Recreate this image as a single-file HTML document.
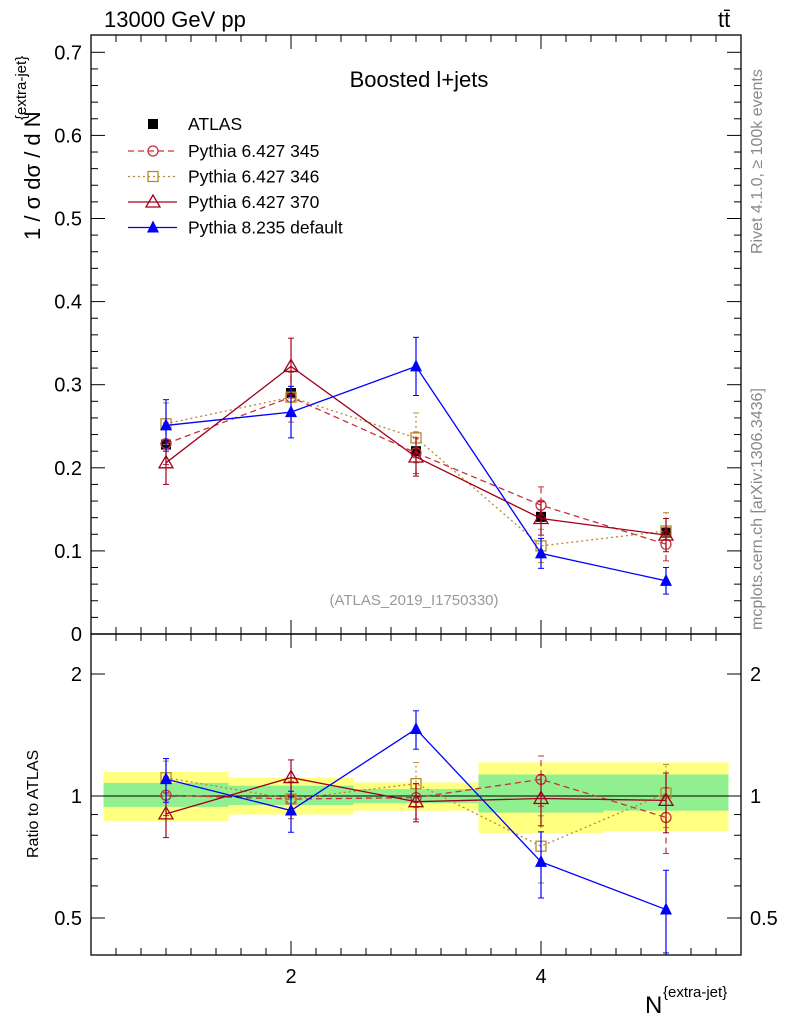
<!DOCTYPE html>
<html><head><meta charset="utf-8"><style>
body{margin:0;background:#fff;}
svg text{font-family:"Liberation Sans",sans-serif;}
</style></head><body>
<svg id="c" width="786" height="1024" xmlns="http://www.w3.org/2000/svg"></svg>
<script>
const xCats=[1,2,3,4,5];
const atlas=[0.228,0.290,0.220,0.141,0.122];
const atlasErr=[0.006,0.007,0.006,0.005,0.005];
const p345=[0.229,0.285,0.218,0.155,0.108];
const p345Err=[0.025,0.03,0.025,0.022,0.02];
const p346=[0.253,0.285,0.236,0.106,0.124];
const p346Err=[0.025,0.03,0.03,0.02,0.022];
const p370=[0.206,0.322,0.213,0.139,0.119];
const p370Err=[0.026,0.034,0.023,0.02,0.02];
const p8=[0.251,0.267,0.322,0.097,0.064];
const p8Err=[0.031,0.031,0.035,0.018,0.016];
const bandYellowHi=[1.146,1.11,1.08,1.21,1.21];
const bandYellowLo=[0.868,0.90,0.92,0.81,0.82];
const bandGreenHi=[1.077,1.06,1.04,1.13,1.13];
const bandGreenLo=[0.94,0.95,0.96,0.91,0.92];
const mainTicks=[0,0.1,0.2,0.3,0.4,0.5,0.6,0.7];
const mainTickLabels=["0","0.1","0.2","0.3","0.4","0.5","0.6","0.7"];
const ratioTicks=[0.5,1,2];
const ratioTickLabels=["0.5","1","2"];
const xTicks=[2,4];

const L=91,R=741,T=35,M=634,B=955;
const X=v=>166+(v-1)*125;
const Y=v=>634-v*831;
const YR=v=>796-Math.log2(v)*122;
const svg=document.getElementById('c');
const NS='http://www.w3.org/2000/svg';
function el(tag,attrs,parent){const e=document.createElementNS(NS,tag);for(const k in attrs)e.setAttribute(k,attrs[k]);(parent||svg).appendChild(e);return e;}
function txt(s,x,y,attrs){const t=el('text',Object.assign({x:x,y:y},attrs||{}));t.textContent=s;return t;}

for(let i=0;i<xCats.length;i++){
  const x0=X(xCats[i]-0.5),x1=X(xCats[i]+0.5);
  const yb=el('rect',{x:x0,y:YR(bandYellowHi[i]),width:x1-x0,height:YR(bandYellowLo[i])-YR(bandYellowHi[i]),fill:'#ffff80'});
  
  
  const gb=el('rect',{x:x0,y:YR(bandGreenHi[i]),width:x1-x0,height:YR(bandGreenLo[i])-YR(bandGreenHi[i]),fill:'#90f090'});
  
  
}
el('line',{x1:L,x2:R,y1:YR(1),y2:YR(1),stroke:'#000','stroke-width':1});

const f1=el('rect',{x:L,y:T,width:R-L,height:M-T,fill:'none',stroke:'#000','stroke-width':1.3});

const f2=el('rect',{x:L,y:M,width:R-L,height:B-M,fill:'none',stroke:'#000','stroke-width':1.3});


for(let v=0;v<=0.72;v+=0.02){const y=Y(v);if(y<T)break;const maj=Math.abs(v*10-Math.round(v*10))<1e-6;const l=maj?14:7;
  el('line',{x1:L,x2:L+l,y1:y,y2:y,stroke:'#000'});el('line',{x1:R,x2:R-l,y1:y,y2:y,stroke:'#000'});}
mainTicks.forEach((v,i)=>{const t=txt(mainTickLabels[i],82,Y(v)+7,{'text-anchor':'end','font-size':20});});
[0.5,0.6,0.7,0.8,0.9,1,2].forEach(v=>{const y=YR(v);const maj=ratioTicks.includes(v);const l=maj?14:7;
  el('line',{x1:L,x2:L+l,y1:y,y2:y,stroke:'#000'});el('line',{x1:R,x2:R-l,y1:y,y2:y,stroke:'#000'});});
ratioTicks.forEach((v,i)=>{const t=txt(ratioTickLabels[i],82,YR(v)+7,{'text-anchor':'end','font-size':20});
  const t2=txt(ratioTickLabels[i],750,YR(v)+7,{'font-size':20});});
for(let v=0.6;v<5.6;v+=0.2){const x=X(v);if(x<L||x>R)continue;const maj=Math.abs(v-Math.round(v))<1e-6&&Math.round(v)%2==0;const l=maj?14:7;
  [[T,1],[M,-1],[M,1],[B,-1]].forEach(([y,d])=>el('line',{x1:x,x2:x,y1:y,y2:y+d*l,stroke:'#000'}));}
xTicks.forEach(v=>{const t=txt(String(v),X(v),983,{'text-anchor':'middle','font-size':20});});

function marker(kind,x,y,color,g){
  if(kind=='sq')el('rect',{x:x-5,y:y-5,width:10,height:10,fill:'#000'},g);
  if(kind=='circ')el('circle',{cx:x,cy:y,r:5,fill:'none',stroke:color,'stroke-width':1.3},g);
  if(kind=='osq')el('rect',{x:x-5,y:y-5,width:10,height:10,fill:'none',stroke:color,'stroke-width':1.3},g);
  if(kind=='otri')el('polygon',{points:`${x},${y-7} ${x-7},${y+5} ${x+7},${y+5}`,fill:'none',stroke:color,'stroke-width':1.3},g);
  if(kind=='tri')el('polygon',{points:`${x},${y-7} ${x-6},${y+5} ${x+6},${y+5}`,fill:color},g);
}
const series=[
 {n:'pythia-6427-345',v:p345,e:p345Err,c:'#c8303c',d:'6,4',m:'circ'},
 {n:'pythia-6427-346',v:p346,e:p346Err,c:'#b88a30',d:'2,3',m:'osq'},
 {n:'pythia-6427-370',v:p370,e:p370Err,c:'#a0001c',d:'',m:'otri'},
 {n:'pythia-8235-default',v:p8,e:p8Err,c:'#0000ff',d:'',m:'tri'}];
const ga=el('g',{});
atlas.forEach((v,i)=>{el('line',{x1:X(xCats[i]),x2:X(xCats[i]),y1:Y(v-atlasErr[i]),y2:Y(v+atlasErr[i]),stroke:'#000'},ga);marker('sq',X(xCats[i]),Y(v),'#000',ga);});
series.forEach(s=>{
  [[Y,'main'],[YR,'ratio']].forEach(([yf,p])=>{
    const g=el('g',{});
    const vals=s.v.map((v,i)=>p=='main'?v:v/atlas[i]);
    const errs=s.e.map((e,i)=>p=='main'?e:e/atlas[i]);
    el('polyline',{points:vals.map((v,i)=>X(xCats[i])+','+yf(v)).join(' '),fill:'none',stroke:s.c,'stroke-width':1.3,'stroke-dasharray':s.d},g);
    vals.forEach((v,i)=>{const lo=Math.max(v-errs[i],p=='main'?0:0.41);
      el('line',{x1:X(xCats[i]),x2:X(xCats[i]),y1:yf(lo),y2:yf(v+errs[i]),stroke:s.c,'stroke-width':1.2,'stroke-dasharray':s.d},g);
      el('line',{x1:X(xCats[i])-3,x2:X(xCats[i])+3,y1:yf(v+errs[i]),y2:yf(v+errs[i]),stroke:s.c},g);
      el('line',{x1:X(xCats[i])-3,x2:X(xCats[i])+3,y1:yf(lo),y2:yf(lo),stroke:s.c},g);
      marker(s.m,X(xCats[i]),yf(v),s.c,g);});
  });
});

const lg=el('g',{});
marker('sq',153,124,'#000',lg);
txt('ATLAS',188,130,{'font-size':17.5});
const labs=['Pythia 6.427 345','Pythia 6.427 346','Pythia 6.427 370','Pythia 8.235 default'];
series.forEach((s,i)=>{const y=151+i*25.5;
  el('line',{x1:128,x2:177,y1:y,y2:y,stroke:s.c,'stroke-width':1.3,'stroke-dasharray':s.d},lg);
  marker(s.m,153,y,s.c,lg);
  const t=txt(labs[i],188,y+6,{'font-size':17.5});});

let t;
t=txt('13000 GeV pp',104,27,{'font-size':22});
t=txt('tt̄',718,27,{'font-size':22});
t=txt('Boosted l+jets',419,87,{'font-size':22,'text-anchor':'middle'});
t=txt('(ATLAS_2019_I1750330)',414,605,{'font-size':15,'text-anchor':'middle',fill:'#999'});
t=txt('Rivet 4.1.0, \u2265 100k events',0,0,{'font-size':16,fill:'#888',transform:'translate(762,254) rotate(-90)'});
t=txt('mcplots.cern.ch [arXiv:1306.3436]',0,0,{'font-size':16,fill:'#888',transform:'translate(762,630) rotate(-90)'});
t=txt('1 / \u03c3 d\u03c3 / d N',0,0,{'font-size':22,transform:'translate(40,240) rotate(-90)'});
t=txt('{extra-jet}',0,0,{'font-size':15,transform:'translate(26,120) rotate(-90)'});
t=txt('Ratio to ATLAS',0,0,{'font-size':16,transform:'translate(38,858) rotate(-90)'});
t=txt('N',645,1013,{'font-size':24});
t=txt('{extra-jet}',663,997,{'font-size':15});
</script>
</body></html>
